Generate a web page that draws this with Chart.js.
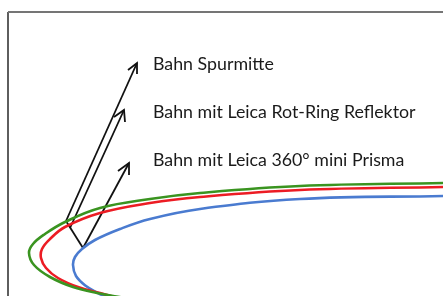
<!DOCTYPE html>
<html>
<head>
<meta charset="utf-8">
<script src="https://cdn.jsdelivr.net/npm/chart.js@4"></script>
<style>
    html, body { margin: 0; padding: 0; background: #ffffff; }
    #wrap { width: 443px; height: 296px; }
</style>
</head>
<body>
<div id="wrap"><canvas id="myChart" width="443" height="296"></canvas></div>
<script>
// picture coordinates (x to the right, y down)
const greenPath = [[443,183],[300,186],[200,193],[150,199],[100,208],[65,222],[45,234],[33,244],[29,253],[34,265],[50,277],[73,287],[97,293],[125,298]]
const redPath   = [[443,187],[300,190],[200,197],[150,203],[100,213],[65,227],[50,239],[42,249],[41,258],[46,268],[58,278],[78,287],[100,293],[118,298]]
const bluePath  = [[443,196],[300,199],[200,209],[150,219],[120,229],[95,240],[82,249],[75,257],[73,265],[76,276],[86,286],[98,293],[108,298]]

// arrows: shaft start -> tip, plus the two arm ends of each open head
const arrowShafts = [
    [[66,221],[137,63]],   // Bahn Spurmitte
    [[70,228],[124,110]],  // Rot-Ring Reflektor
    [[83,248],[129,163]],  // 360° mini Prisma
]
const arrowHeads = [
    [[128,70],[137,63],[137,74]],
    [[114,117],[124,110],[125,122]],
    [[118,171],[129,163],[129,175]],
]
const bracketBase = [[66,221],[83,248]]

// frame of the figure
const frameTop = [[8,12],[443,12]]
const frameLeft = [[8,12],[8,296]]

const labels = ["Bahn Spurmitte", "Bahn mit Leica Rot-Ring Reflektor", "Bahn mit Leica 360° mini Prisma"]
const labelX = [153, 153, 153]
const labelY = [64, 112, 160]

const toPts = arr => arr.map(p => ({x: p[0], y: p[1]}))

function lineSet(pts, color, width, tension){
    return {
        data: toPts(pts),
        showLine: true,
        borderColor: color,
        borderWidth: width,
        pointRadius: 0,
        tension: tension,
        fill: false,
    }
}

const datasets = [
    lineSet(frameTop, "#757575", 2, 0),
    lineSet(frameLeft, "#2a2a2a", 1.5, 0),
    lineSet(greenPath, "#3a9420", 2.6, 0.4),
    lineSet(redPath, "#ec1c24", 2.6, 0.4),
    lineSet(bluePath, "#4a7bd0", 2.6, 0.4),
    lineSet(bracketBase, "#111111", 1.8, 0),
]
arrowShafts.forEach(s => datasets.push(lineSet(s, "#111111", 1.8, 0)))
arrowHeads.forEach(h => datasets.push(lineSet(h, "#111111", 1.8, 0)))

// draws the three captions at data coordinates
const captionPlugin = {
    id: "captions",
    afterDatasetsDraw(chart){
        const ctx = chart.ctx
        const xs = chart.scales.x, ys = chart.scales.y
        ctx.save()
        ctx.font = "17.8px Lato"
        ctx.fillStyle = "#1a1a1a"
        ctx.textBaseline = "middle"
        labels.forEach((t, i) => {
            ctx.fillText(t, xs.getPixelForValue(labelX[i]), ys.getPixelForValue(labelY[i]))
        })
        ctx.restore()
    }
}

const myChart = new Chart(document.getElementById("myChart"), {
    type: "scatter",
    data: { datasets: datasets },
    options: {
        responsive: false,
        animation: false,
        layout: { padding: 0 },
        scales: {
            x: { type: "linear", min: 0, max: 443, display: false },
            y: { type: "linear", min: 0, max: 296, reverse: true, display: false },
        },
        plugins: {
            legend: { display: false },
            tooltip: { enabled: false },
        },
    },
    plugins: [captionPlugin],
})
</script>
</body>
</html>
